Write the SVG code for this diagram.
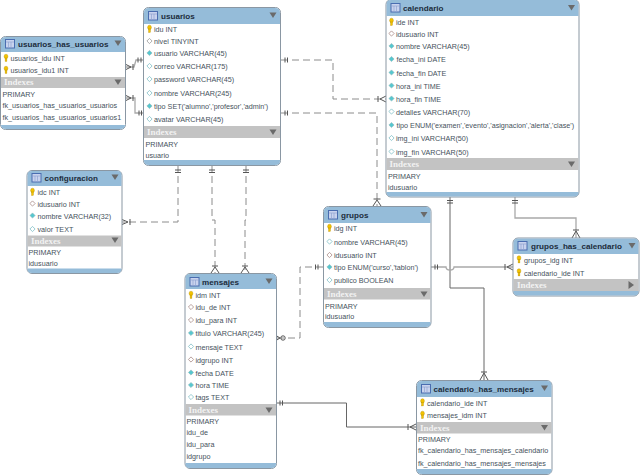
<svg xmlns="http://www.w3.org/2000/svg" width="640" height="475" viewBox="0 0 640 475">
<style>
text{font-family:"Liberation Sans",Arial,sans-serif;font-size:7.2px;fill:#46525c}
.t{font-family:"Liberation Sans",Arial,sans-serif;font-size:8.1px;font-weight:bold;fill:#1c2c3c}
.ix{font-family:"Liberation Serif",serif;font-size:9px;font-weight:bold;fill:#f2f2f2}
.box{fill:#fff;stroke:#8a97a3;stroke-width:1}
.head{fill:#95bcd9}
.bar{fill:#c3c3c3}
.c{fill:none;stroke:#7f7f7f;stroke-width:1}
.d{stroke-dasharray:7 4;stroke:#8c8c8c}
.s{stroke:#666}
.l{stroke:#a9a9a9;stroke-width:1.3}
.m{fill:none;stroke:#555;stroke-width:1}
.k{fill:#f2c200;stroke:#b89000;stroke-width:.4}
.dw{fill:#fff;stroke:#9a9a9a;stroke-width:.8}
.db{fill:#55c7cf;stroke:#8fb7bb;stroke-width:.6}
.dw2{fill:#fff;stroke:#a88a86;stroke-width:.8}
.dc{fill:#fff;stroke:#7fbfc7;stroke-width:.8}
.tri{fill:#6a6a6a}
</style>
<defs>
<g id="ti"><rect x="0.5" y="0.5" width="9" height="8.5" fill="#c9d3ee" stroke="#4a6db0" stroke-width="1"/><path d="M1 3H9M3.500 3V9M6 3V9" stroke="#8fa3d0" stroke-width=".7"/></g>
<g id="key"><ellipse cx="0" cy="-1.6" rx="1.9" ry="2.2" class="k"/><rect x="-0.9" y="0" width="1.8" height="3.4" class="k"/></g>
<path id="dm" d="M0-2.6 2.6 0 0 2.6-2.6 0Z"/>
<path id="dn" d="M-3.500-2.500H3.500L0 3Z" class="tri"/>
<path id="rt" d="M-2.500-4 3 0-2.500 4Z" class="tri"/>
</defs>

<g id="connectors">
<path class="c l" d="M126 67H134L136 60H143"/>
<path class="c l" d="M126 98H135V113H143"/>
<path class="c d" d="M281 60H333V99H386"/>
<path class="c d" d="M281 113H377V206"/>
<path class="c d" d="M178 165V222H122"/>
<path class="c d" d="M212 165V220H215V273"/>
<path class="c d" d="M246 165V220H245V273"/>
<path class="c d" d="M323 267H300V338H276"/>
<path class="c s" d="M276 403H346.500V427H416"/>
<path class="c s" d="M450 197V288H484V380"/>
<path class="c l" d="M515 197V218H576V238"/>
<path class="c l" d="M431 267H446Q446 270 450 270Q454 270 454 267H513"/>
<path class="m" d="M126 64.500L131 67L126 69.500M133 64V70"/>
<path class="m" d="M138 57.500V62.500M141 57.500V62.500"/>
<path class="m" d="M126 95.500L131 98L126 100.500M133 95V101M139 110.500V115.500M141.500 110.500V115.500"/>
<path class="m" d="M285 57.500V62.500M287.500 57.500V62.500M285 110.500V115.500M287.500 110.500V115.500"/>
<path class="m" d="M386 96L380 99L386 102M378 96V102"/>
<path class="m" d="M373.500 199H380.500M373 206L377 200L381 206"/>
<path class="m" d="M175 170H181M175 172.500H181M209 170H215M209 172.500H215M243 170H249M243 172.500H249"/>
<path class="m" d="M122 219.500L128 222L122 224.500M130 219V225"/>
<path class="m" d="M212 266H218M211 273L215 267L219 273M242 266H248M241 273L245 267L249 273"/>
<path class="m" d="M276 335.500L280 338L276 340.500"/>
<circle class="m" cx="283" cy="338" r="2.200"/>
<path class="m" d="M315.500 264.500V269.500M318 264.500V269.500"/>
<path class="m" d="M280 400.500V405.500M282.500 400.500V405.500M416 424L410 427L416 430M408 424V430"/>
<path class="m" d="M447 200.500H453M447 203H453M481 372H487M480 380L484 373L488 380"/>
<path class="m" d="M512 200.500H518M512 203H518M573 230H579M572 238L576 231L580 238"/>
<path class="m" d="M435 264.500V269.500M437.500 264.500V269.500M513 264L507 267L513 270M505 264V270"/>
</g>

<g id="usuarios">
<rect class="box" x="143.500" y="7.500" width="137" height="158" rx="5"/>
<path class="head" d="M144 24V12.500Q144 8 149 8H275Q280 8 280 12.500V24Z"/>
<path class="head" d="M144 160H280V161Q280 165 275 165H149Q144 165 144 161Z"/>
<rect class="bar" x="144" y="126" width="136" height="12"/>
<use href="#ti" x="148" y="11"/><text class="t" x="161" y="19">usuarios</text><use href="#dn" x="273" y="15"/>
<use href="#key" x="149.500" y="29"/><text x="154" y="32">idu INT</text>
<use href="#dm" class="dw" x="149.500" y="41"/><text x="154" y="44">nivel TINYINT</text>
<use href="#dm" class="db" x="149.500" y="53"/><text x="154" y="56">usuario VARCHAR(45)</text>
<use href="#dm" class="dc" x="149.500" y="66"/><text x="154" y="69">correo VARCHAR(175)</text>
<use href="#dm" class="dc" x="149.500" y="79"/><text x="154" y="82">password VARCHAR(45)</text>
<use href="#dm" class="dc" x="149.500" y="93"/><text x="154" y="96">nombre VARCHAR(245)</text>
<use href="#dm" class="db" x="149.500" y="106"/><text x="154" y="109">tipo SET('alumno','profesor','admin')</text>
<use href="#dm" class="dc" x="149.500" y="119"/><text x="154" y="122">avatar VARCHAR(45)</text>
<text class="ix" x="147" y="135">Indexes</text><use href="#dn" x="273" y="132"/>
<text x="145.500" y="147">PRIMARY</text><text x="145.500" y="158">usuario</text>
</g>

<g id="usuarios_has_usuarios">
<rect class="box" x="0.500" y="36.500" width="125" height="93" rx="5"/>
<path class="head" d="M1 52V41Q1 37 6 37H120Q125 37 125 41V52Z"/>
<path class="head" d="M1 125H125V125Q125 129 120 129H6Q1 129 1 125Z"/>
<rect class="bar" x="1" y="77" width="124" height="11"/>
<use href="#ti" x="5" y="39"/><text class="t" x="18" y="47">usuarios_has_usuarios</text><use href="#dn" x="118" y="43"/>
<use href="#key" x="6" y="58"/><text x="10.500" y="61">usuarios_idu INT</text>
<use href="#key" x="6" y="70"/><text x="10.500" y="73">usuarios_idu1 INT</text>
<text class="ix" x="4" y="85">Indexes</text><use href="#dn" x="118" y="82"/>
<text x="2.500" y="97">PRIMARY</text><text x="2.500" y="108">fk_usuarios_has_usuarios_usuarios</text><text x="2.500" y="120">fk_usuarios_has_usuarios_usuarios1</text>
</g>

<g id="configuracion">
<rect class="box" x="27" y="170.500" width="95" height="103" rx="5"/>
<path class="head" d="M27.500 186V175Q27.500 171 32 171H117Q121.500 171 121.500 175V186Z"/>
<path class="head" d="M27.500 268.500H121.500V269Q121.500 273 117 273H32Q27.500 273 27.500 269Z"/>
<rect class="bar" x="27.500" y="235.500" width="94" height="11"/>
<use href="#ti" x="31.500" y="173"/><text class="t" x="44.500" y="181">configuracion</text><use href="#dn" x="115" y="177"/>
<use href="#key" x="32.500" y="192"/><text x="37.500" y="195">idc INT</text>
<use href="#dm" class="dw2" x="32.500" y="203.500"/><text x="37.500" y="206.500">idusuario INT</text>
<use href="#dm" class="db" x="32.500" y="215.500"/><text x="37.500" y="218.500">nombre VARCHAR(32)</text>
<use href="#dm" class="dc" x="32.500" y="229"/><text x="37.500" y="232">valor TEXT</text>
<text class="ix" x="31" y="243.500">Indexes</text><use href="#dn" x="115" y="240"/>
<text x="28.500" y="255">PRIMARY</text><text x="28.500" y="266">idusuario</text>
</g>

<g id="calendario">
<rect class="box" x="386" y="-0.500" width="193" height="197.500" rx="5"/>
<path class="head" d="M386.500 16V4Q386.500 0 391 0H574Q578.500 0 578.500 4V16Z"/>
<path class="head" d="M386.500 192H578.500V192.500Q578.500 196.500 574 196.500H391Q386.500 196.500 386.500 192.500Z"/>
<rect class="bar" x="386.500" y="158" width="192" height="12"/>
<use href="#ti" x="390.500" y="3"/><text class="t" x="403" y="11">calendario</text><use href="#dn" x="571.500" y="7.500"/>
<use href="#key" x="391.500" y="22"/><text x="396" y="25">ide INT</text>
<use href="#dm" class="dw2" x="391.500" y="33.500"/><text x="396" y="36.500">idusuario INT</text>
<use href="#dm" class="db" x="391.500" y="46"/><text x="396" y="49">nombre VARCHAR(45)</text>
<use href="#dm" class="db" x="391.500" y="59"/><text x="396.500" y="62">fecha_ini DATE</text>
<use href="#dm" class="db" x="391.500" y="72.500"/><text x="396.500" y="75.500">fecha_fin DATE</text>
<use href="#dm" class="db" x="391.500" y="85.500"/><text x="396" y="88.500">hora_ini TIME</text>
<use href="#dm" class="db" x="391.500" y="98.500"/><text x="396" y="101.500">hora_fin TIME</text>
<use href="#dm" class="dc" x="391.500" y="111.500"/><text x="396" y="114.500">detalles VARCHAR(70)</text>
<use href="#dm" class="db" x="391.500" y="125"/><text x="396.500" y="128">tipo ENUM('examen','evento','asignacion','alerta','clase')</text>
<use href="#dm" class="dc" x="391.500" y="138"/><text x="396" y="141">img_ini VARCHAR(50)</text>
<use href="#dm" class="dc" x="391.500" y="151.500"/><text x="396" y="154.500">img_fin VARCHAR(50)</text>
<text class="ix" x="389.500" y="167">Indexes</text><use href="#dn" x="571.500" y="164"/>
<text x="388" y="179">PRIMARY</text><text x="388" y="189.500">idusuario</text>
</g>

<g id="grupos">
<rect class="box" x="323.500" y="206.500" width="107.500" height="121" rx="5"/>
<path class="head" d="M324 223V211Q324 207 329 207H426Q430.500 207 430.500 211V223Z"/>
<path class="head" d="M324 322H430.500V323Q430.500 327 426 327H329Q324 327 324 323Z"/>
<rect class="bar" x="324" y="288" width="106.500" height="11.500"/>
<use href="#ti" x="328" y="210"/><text class="t" x="341" y="218">grupos</text><use href="#dn" x="424" y="214.500"/>
<use href="#key" x="329.500" y="228"/><text x="334" y="231">idg INT</text>
<use href="#dm" class="dc" x="329.500" y="241.500"/><text x="334" y="244.500">nombre VARCHAR(45)</text>
<use href="#dm" class="dw2" x="329.500" y="255"/><text x="334" y="258">idusuario INT</text>
<use href="#dm" class="db" x="329.500" y="267"/><text x="334" y="270">tipo ENUM('curso','tablon')</text>
<use href="#dm" class="dc" x="329.500" y="280"/><text x="334" y="283">publico BOOLEAN</text>
<text class="ix" x="327" y="297">Indexes</text><use href="#dn" x="424" y="294"/>
<text x="325" y="309">PRIMARY</text><text x="325" y="319">idusuario</text>
</g>

<g id="grupos_has_calendario">
<rect class="box" x="513" y="238" width="126" height="58" rx="5"/>
<path class="head" d="M513.500 254V243Q513.500 238.500 518 238.500H634Q638.500 238.500 638.500 243V254Z"/>
<path class="head" d="M513.500 291H638.500V291.500Q638.500 295.500 634 295.500H518Q513.500 295.500 513.500 291.500Z"/>
<rect class="bar" x="513.500" y="279" width="125" height="12"/>
<use href="#ti" x="517.500" y="241"/><text class="t" x="531" y="249">grupos_has_calendario</text><use href="#dn" x="632" y="245.500"/>
<use href="#key" x="519" y="259.500"/><text x="524" y="262.500">grupos_idg INT</text>
<use href="#key" x="519" y="272.500"/><text x="524" y="275.500">calendario_ide INT</text>
<text class="ix" x="517" y="287.500">Indexes</text><use href="#rt" x="631" y="285"/>
</g>

<g id="mensajes">
<rect class="box" x="185" y="273.500" width="91.500" height="195" rx="5"/>
<path class="head" d="M185.500 289V278Q185.500 274 190 274H271.500Q276 274 276 278V289Z"/>
<path class="head" d="M185.500 463H276V464Q276 468 271.500 468H190Q185.500 468 185.500 464Z"/>
<rect class="bar" x="185.500" y="404" width="90.500" height="11.500"/>
<use href="#ti" x="189.500" y="277"/><text class="t" x="202" y="285">mensajes</text><use href="#dn" x="269" y="281"/>
<use href="#key" x="191" y="295"/><text x="195.500" y="298">idm INT</text>
<use href="#dm" class="dw2" x="191" y="307"/><text x="195.500" y="310">idu_de INT</text>
<use href="#dm" class="dw2" x="191" y="320"/><text x="195.500" y="323">idu_para INT</text>
<use href="#dm" class="db" x="191" y="333"/><text x="195.500" y="336">titulo VARCHAR(245)</text>
<use href="#dm" class="dc" x="191" y="346.500"/><text x="195.500" y="349.500">mensaje TEXT</text>
<use href="#dm" class="dw2" x="191" y="359.500"/><text x="195.500" y="362.500">idgrupo INT</text>
<use href="#dm" class="db" x="191" y="372.500"/><text x="195.500" y="375.500">fecha DATE</text>
<use href="#dm" class="db" x="191" y="385"/><text x="195.500" y="388">hora TIME</text>
<use href="#dm" class="dc" x="191" y="397"/><text x="195.500" y="400">tags TEXT</text>
<text class="ix" x="188.500" y="413">Indexes</text><use href="#dn" x="269" y="410"/>
<text x="186.500" y="424">PRIMARY</text><text x="186.500" y="435">idu_de</text><text x="186.500" y="447">idu_para</text><text x="186.500" y="459">idgrupo</text>
</g>

<g id="calendario_has_mensajes">
<rect class="box" x="416.500" y="380.500" width="135.500" height="94" rx="5"/>
<path class="head" d="M417 397V385Q417 381 422 381H547Q551.500 381 551.500 385V397Z"/>
<path class="head" d="M417 469H551.500V470Q551.500 474 547 474H422Q417 474 417 470Z"/>
<rect class="bar" x="417" y="422" width="134.500" height="11.500"/>
<use href="#ti" x="421" y="384"/><text class="t" x="433.500" y="392">calendario_has_mensajes</text><use href="#dn" x="544.500" y="388"/>
<use href="#key" x="422.500" y="402.500"/><text x="427" y="405.500">calendario_ide INT</text>
<use href="#key" x="422.500" y="415"/><text x="427" y="418">mensajes_idm INT</text>
<text class="ix" x="420" y="430.500">Indexes</text><use href="#dn" x="544.500" y="427.500"/>
<text x="418" y="442">PRIMARY</text><text x="418" y="453">fk_calendario_has_mensajes_calendario</text><text x="418" y="465.500">fk_calendario_has_mensajes_mensajes</text>
</g>
</svg>
